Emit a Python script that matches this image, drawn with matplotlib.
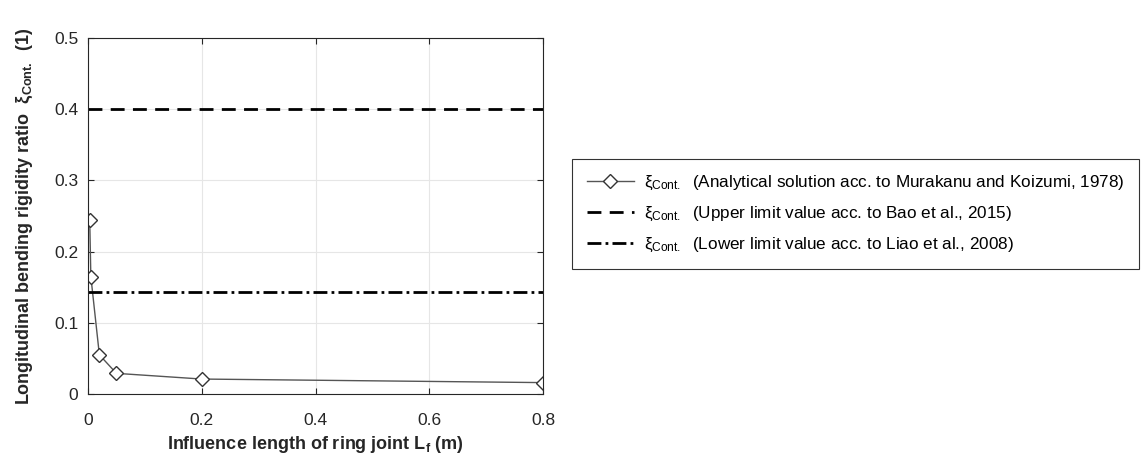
import matplotlib
matplotlib.use("Agg")
from matplotlib import pyplot as plt

plt.rcParams['font.family'] = ['Liberation Sans', 'DejaVu Sans']
plt.rcParams['mathtext.fontset'] = 'custom'
plt.rcParams['mathtext.rm'] = 'Liberation Sans'
plt.rcParams['mathtext.it'] = 'Liberation Sans'
plt.rcParams['mathtext.bf'] = 'Liberation Sans:bold'

# data
lf = [0.003, 0.005, 0.02, 0.05, 0.2, 0.8]
xi_analytical = [0.245, 0.165, 0.055, 0.029, 0.021, 0.016]
xi_upper = 0.4
xi_lower = 0.143
xticks = [0, 0.2, 0.4, 0.6, 0.8]
yticks = [0, 0.1, 0.2, 0.3, 0.4, 0.5]

labels = [
    r'$\xi_{\mathrm{Cont.}}$  (Analytical solution acc. to Murakanu and Koizumi, 1978)',
    r'$\xi_{\mathrm{Cont.}}$  (Upper limit value acc. to Bao et al., 2015)',
    r'$\xi_{\mathrm{Cont.}}$  (Lower limit value acc. to Liao et al., 2008)',
]

fig = plt.figure(figsize=(11.41, 4.62), dpi=100)
ax = fig.add_axes([88/1141, 1-394/462, (543-88)/1141, (394-38)/462])

l1, = ax.plot(lf, xi_analytical, color='#555555', lw=1.0, marker='D', ms=7,
              mfc='white', mec='#333333', mew=1.0)
l2 = ax.axhline(xi_upper, color='black', lw=2.0, ls=(0, (5, 3)))
l3 = ax.axhline(xi_lower, color='black', lw=2.0, ls=(0, (5, 1.5, 1, 1.5)))

ax.set_xlim(0, 0.8)
ax.set_ylim(0, 0.5)
ax.set_xticks(xticks)
ax.set_xticklabels(['0', '0.2', '0.4', '0.6', '0.8'])
ax.set_yticks(yticks)
ax.set_yticklabels(['0', '0.1', '0.2', '0.3', '0.4', '0.5'])
ax.grid(True, color='#e6e6e6', lw=0.8)
ax.set_axisbelow(True)
ax.tick_params(direction='in', top=True, right=True, labelsize=12.5,
               colors='#262626', length=4)
ax.tick_params(axis='x', pad=14)
ax.tick_params(axis='y', pad=7)
for s in ax.spines.values():
    s.set_color('#262626')
    s.set_linewidth(0.8)

ax.set_xlabel(r'Influence length of ring joint L$_\mathbf{f}$ (m)',
              fontsize=13, fontweight='bold', color='#262626', labelpad=4)
ax.set_ylabel(r'Longitudinal bending rigidity ratio  $\mathbf{\xi}_{\mathbf{Cont.}}$  (1)',
              fontsize=13, fontweight='bold', color='#262626', labelpad=14)

leg = fig.legend([l1, l2, l3], labels, loc='center left',
                 bbox_to_anchor=(569/1141, 1-214/462), fontsize=12.3,
                 frameon=True, fancybox=False, handlelength=2.75,
                 labelspacing=0.75, borderpad=0.85, handletextpad=0.6,
                 borderaxespad=0.2)
leg.get_frame().set_edgecolor('black')
leg.get_frame().set_linewidth(0.8)

fig.savefig('out.png', dpi=100)
